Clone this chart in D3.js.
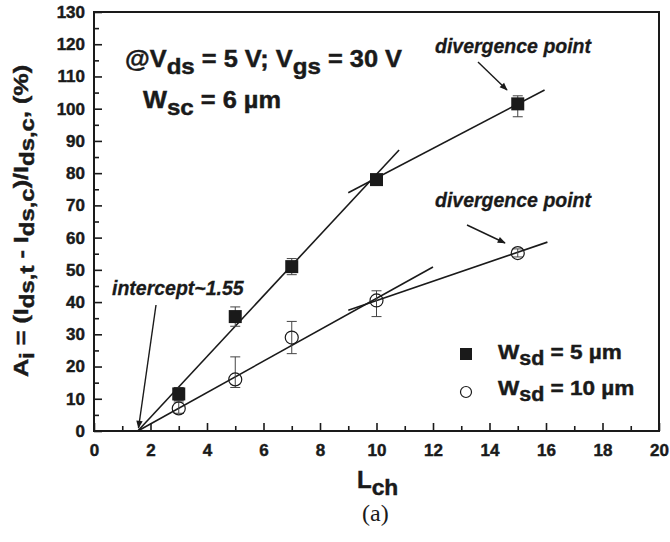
<!DOCTYPE html>
<html>
<head>
<meta charset="utf-8">
<script src="https://cdn.jsdelivr.net/npm/d3@7"></script>
<style>
  html, body { margin: 0; padding: 0; background: #fff; }
  svg { display: block; }
  svg text { font-family: "Liberation Sans", Arial, sans-serif; font-weight: bold; fill: #1a1a1a;
             stroke: #1a1a1a; stroke-width: 0.45px; }
  svg text.serif { font-family: "Liberation Serif", "Times New Roman", serif; font-weight: normal; stroke: none; }
  svg text.it { font-style: italic; stroke-width: 0.3px; }
  svg .tick text { font-size: 17px; }
</style>
</head>
<body>
<svg id="chart" width="670" height="542"></svg>
<script>
// Channel length (µm)
const lch = [3, 5, 7, 10, 15];

// W_sd = 5 µm (filled squares)
const sqVal = [11.5, 35.5, 51, 78, 101.5];
const sqLo  = [9.5, 32.5, 48.5, 77, 97.5];
const sqHi  = [13.5, 38.5, 53.5, 79, 104];

// W_sd = 10 µm (open circles)
const ciVal = [7, 16, 29, 40.5, 55.2];
const ciLo  = [5.5, 13.5, 24, 35.5, 54];
const ciHi  = [9, 23, 34, 43.5, 56.5];

// Linear fit segments [x0, y0, x1, y1]
const fitSq1 = [1.55, 0, 10.8, 87.2];
const fitSq2 = [9.0, 73.9, 15.95, 105.8];
const fitCi1 = [1.55, 0, 12.0, 50.9];
const fitCi2 = [9.0, 37.5, 16.05, 58.6];

const xTicks = d3.range(0, 21, 2);
const yTicks = d3.range(0, 131, 10);

const ink = "#1a1a1a";

const svg = d3.select("#chart");
const x = d3.scaleLinear().domain([0, 20]).range([94, 659]);
const y = d3.scaleLinear().domain([0, 130]).range([431, 12]);

// minor ticks
svg.append("g").attr("transform", `translate(0,${y(0)})`)
  .call(d3.axisBottom(x).tickValues(d3.range(1, 20, 2)).tickSizeInner(-5).tickSizeOuter(0).tickFormat(""))
  .call(g => g.select(".domain").remove())
  .selectAll("line").attr("stroke", ink).attr("stroke-width", 1.6);
svg.append("g").attr("transform", `translate(${x(0)},0)`)
  .call(d3.axisLeft(y).tickValues(d3.range(5, 130, 10)).tickSizeInner(-5).tickSizeOuter(0).tickFormat(""))
  .call(g => g.select(".domain").remove())
  .selectAll("line").attr("stroke", ink).attr("stroke-width", 1.6);

// major ticks + labels
function styleAxis(g) {
  g.select(".domain").remove();
  g.selectAll("line").attr("stroke", ink).attr("stroke-width", 1.6);
}
svg.append("g").attr("transform", `translate(0,${y(0)})`)
  .call(d3.axisBottom(x).tickValues(xTicks).tickSizeInner(-8).tickSizeOuter(0).tickPadding(13).tickFormat(d3.format("d")))
  .call(styleAxis);
svg.append("g").attr("transform", `translate(${x(0)},0)`)
  .call(d3.axisLeft(y).tickValues(yTicks).tickSizeInner(-8).tickSizeOuter(0).tickPadding(9).tickFormat(d3.format("d")))
  .call(styleAxis);

// frame
svg.append("rect").attr("x", x(0)).attr("y", y(130))
  .attr("width", x(20) - x(0)).attr("height", y(0) - y(130))
  .attr("fill", "none").attr("stroke", ink).attr("stroke-width", 2);

// fit lines
[fitSq1, fitSq2, fitCi1, fitCi2].forEach(f => {
  svg.append("line")
    .attr("x1", x(f[0])).attr("y1", y(f[1]))
    .attr("x2", x(f[2])).attr("y2", y(f[3]))
    .attr("stroke", ink).attr("stroke-width", 1.6);
});

// error bars
function errorBars(lo, hi) {
  const g = svg.append("g").attr("stroke", "#444").attr("stroke-width", 1);
  lch.forEach((v, i) => {
    g.append("line").attr("x1", x(v)).attr("x2", x(v)).attr("y1", y(lo[i])).attr("y2", y(hi[i]));
    [lo[i], hi[i]].forEach(e => g.append("line")
      .attr("x1", x(v) - 5).attr("x2", x(v) + 5).attr("y1", y(e)).attr("y2", y(e)));
  });
}
errorBars(sqLo, sqHi);
errorBars(ciLo, ciHi);

// markers
svg.append("g").selectAll("rect").data(lch).join("rect")
  .attr("x", (d) => x(d) - 6.5).attr("y", (d, i) => y(sqVal[i]) - 6.5)
  .attr("width", 13).attr("height", 13).attr("fill", ink);
svg.append("g").selectAll("circle").data(lch).join("circle")
  .attr("cx", d => x(d)).attr("cy", (d, i) => y(ciVal[i]))
  .attr("r", 6.5).attr("fill", "none").attr("stroke", ink).attr("stroke-width", 1.2);

// arrow marker
svg.append("defs").append("marker").attr("id", "arr")
  .attr("viewBox", "0 0 10 10").attr("refX", 9).attr("refY", 5)
  .attr("markerWidth", 10).attr("markerHeight", 8).attr("markerUnits", "userSpaceOnUse")
  .attr("orient", "auto")
  .append("path").attr("d", "M0,1 L10,5 L0,9 Z").attr("fill", ink);

function arrow(x1, y1, x2, y2) {
  svg.append("line").attr("x1", x1).attr("y1", y1).attr("x2", x2).attr("y2", y2)
    .attr("stroke", ink).attr("stroke-width", 1.4).attr("marker-end", "url(#arr)");
}

// text with subscripts; sx widens the glyphs horizontally
function label(tx, ty, size, parts, opt = {}) {
  const sx = opt.sx || 1, sub = opt.sub || 0.95, rot = opt.rot || 0;
  const t = svg.append("text")
    .attr("transform", `translate(${tx},${ty}) rotate(${rot}) scale(${sx},1)`)
    .style("font-size", size + "px");
  if (opt.anchor) t.attr("text-anchor", opt.anchor);
  parts.forEach(p => {
    const s = t.append("tspan").text(p[0]);
    if (p[1] === "sub") s.attr("dy", size * 0.3).style("font-size", (size * sub) + "px");
    if (p[1] === "up") s.attr("dy", -size * 0.3);
  });
  return t;
}

label(125, 67, 23.5, [["@V"], ["ds", "sub"], [" = 5 V; V", "up"], ["gs", "sub"], [" = 30 V", "up"]], { sx: 1.08 });
label(143, 108, 23.5, [["W"], ["sc", "sub"], [" = 6 \u00b5m", "up"]], { sx: 1.08 });

svg.append("text").attr("class", "it").attr("x", 435).attr("y", 53).style("font-size", "19.5px")
  .text("divergence point");
arrow(478, 62, 507, 90);
svg.append("text").attr("class", "it").attr("x", 435).attr("y", 207).style("font-size", "19.5px")
  .text("divergence point");
arrow(467, 225, 505, 243);
svg.append("text").attr("class", "it").attr("x", 112).attr("y", 295).style("font-size", "19.5px")
  .text("intercept~1.55");
arrow(156, 305, 138.5, 428);

// legend
svg.append("rect").attr("x", 460).attr("y", 348).attr("width", 12).attr("height", 12).attr("fill", ink);
label(498, 359, 20.5, [["W"], ["sd", "sub"], [" = 5 \u00b5m", "up"]], { sx: 1.1 });
svg.append("circle").attr("cx", 466).attr("cy", 392).attr("r", 5.5)
  .attr("fill", "none").attr("stroke", ink).attr("stroke-width", 1.2);
label(498, 395, 20.5, [["W"], ["sd", "sub"], [" = 10 \u00b5m", "up"]], { sx: 1.1 });

// axis titles
label(357, 488, 24, [["L"], ["ch", "sub"]]);
svg.append("text").attr("class", "serif").attr("x", 362).attr("y", 521)
  .style("font-size", "24px").text("(a)");

label(28, 221, 21, [["A"], ["i", "sub"], [" = (I", "up"], ["ds,t", "sub"], [" - I", "up"], ["ds,c", "sub"], [")/I", "up"], ["ds,c", "sub"], [", (%)", "up"]],
  { sx: 1.2, rot: -90, anchor: "middle" });
</script>
</body>
</html>
